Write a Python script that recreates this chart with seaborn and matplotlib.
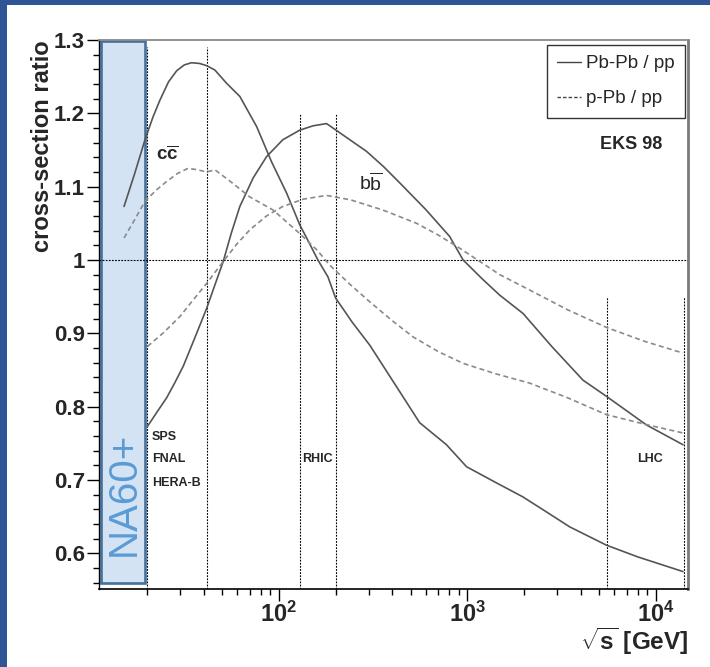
import matplotlib
matplotlib.use("Agg")
import matplotlib.pyplot as plt
import pandas as pd
import seaborn as sns
from matplotlib.lines import Line2D
from matplotlib.patches import Rectangle
from matplotlib.ticker import FixedLocator, FixedFormatter, LogLocator, NullFormatter

# EKS98 shadowing: ratio of heavy-quark cross sections vs. sqrt(s) [GeV]
cc_pbpb_energy = [15.1, 17.2, 19.5, 21.5, 23.4, 26.0, 28.7, 31.5, 34.4, 38.0, 41.4, 45.8, 52.8,
                  62.1, 76.2, 91.4, 110, 129, 145, 161, 182, 200, 245, 303, 421, 558, 774, 989,
                  1400, 1963, 2600, 3483, 5458, 8000, 13900]
cc_pbpb_ratio = [1.073, 1.118, 1.164, 1.195, 1.218, 1.243, 1.258, 1.266, 1.269, 1.268, 1.265,
                 1.259, 1.241, 1.223, 1.182, 1.134, 1.091, 1.048, 1.023, 1.000, 0.977, 0.948,
                 0.915, 0.884, 0.827, 0.778, 0.748, 0.718, 0.697, 0.677, 0.657, 0.636, 0.611,
                 0.595, 0.575]

cc_ppb_energy = [15.1, 17.2, 19.5, 22.3, 25.4, 29.0, 33.0, 37.0, 41.4, 45.8, 56.0, 70.1, 93.3,
                 129, 160, 186, 240, 303, 400, 515, 700, 948, 1400, 2138, 3400, 5458, 8700,
                 13900]
cc_ppb_ratio = [1.030, 1.055, 1.080, 1.095, 1.107, 1.118, 1.125, 1.123, 1.120, 1.123, 1.106,
                1.086, 1.068, 1.036, 1.013, 0.993, 0.966, 0.943, 0.917, 0.895, 0.875, 0.859,
                0.845, 0.832, 0.812, 0.789, 0.776, 0.764]

bb_pbpb_energy = [20.1, 22.5, 25.4, 28.0, 31.1, 35.6, 41.4, 45.8, 50.7, 56.0, 62.1, 73.1, 86.1,
                  105, 129, 152, 179, 220, 292, 360, 438, 600, 805, 948, 1200, 1483, 1972, 2800,
                  4102, 5458, 8892, 13900]
bb_pbpb_ratio = [0.773, 0.792, 0.812, 0.832, 0.855, 0.892, 0.934, 0.966, 0.998, 1.037, 1.073,
                 1.112, 1.141, 1.164, 1.177, 1.183, 1.186, 1.170, 1.148, 1.127, 1.105, 1.069,
                 1.032, 1.000, 0.974, 0.952, 0.927, 0.882, 0.836, 0.814, 0.775, 0.748]

bb_ppb_energy = [20.1, 24.5, 29.9, 35.0, 41.4, 50.7, 60.0, 70.1, 86.0, 105, 135, 179, 240, 357,
                 537, 700, 910, 1483, 2138, 3400, 5458, 8700, 13900]
bb_ppb_ratio = [0.882, 0.901, 0.923, 0.945, 0.968, 0.998, 1.022, 1.041, 1.060, 1.073, 1.083,
                1.088, 1.082, 1.068, 1.050, 1.034, 1.016, 0.980, 0.959, 0.932, 0.908, 0.889,
                0.873]

systems = ["Pb-Pb / pp", "p-Pb / pp"]

# collider / fixed-target energies marked by vertical lines, and where each line starts
experiment_energy = [20, 41.6, 130, 200, 5500, 14000]
experiment_line_top = [1.29, 1.29, 1.2, 1.2, 0.95, 0.95]

y_ticks = [0.6, 0.7, 0.8, 0.9, 1.0, 1.1, 1.2, 1.3]
y_tick_labels = ["0.6", "0.7", "0.8", "0.9", "1", "1.1", "1.2", "1.3"]
x_ticks = [1e2, 1e3, 1e4]
x_tick_labels = [r"$\mathbf{10^{2}}$", r"$\mathbf{10^{3}}$", r"$\mathbf{10^{4}}$"]

# long-form table for seaborn
frames = []
for quark, sys_, e, r in [("cc", systems[0], cc_pbpb_energy, cc_pbpb_ratio),
                          ("cc", systems[1], cc_ppb_energy, cc_ppb_ratio),
                          ("bb", systems[0], bb_pbpb_energy, bb_pbpb_ratio),
                          ("bb", systems[1], bb_ppb_energy, bb_ppb_ratio)]:
    frames.append(pd.DataFrame({"energy": e, "ratio": r, "system": sys_,
                                "curve": quark + sys_}))
df = pd.concat(frames, ignore_index=True)

sns.set_style("ticks")
plt.rcParams["font.family"] = ["Liberation Sans", "DejaVu Sans"]
plt.rcParams["mathtext.fontset"] = "custom"
plt.rcParams["mathtext.rm"] = "Liberation Sans"
plt.rcParams["mathtext.bf"] = "Liberation Sans:bold"
plt.rcParams["mathtext.it"] = "Liberation Sans:italic"

W, H = 710, 667
fig = plt.figure(figsize=(W / 100, H / 100), dpi=100)
fig.patch.set_facecolor("white")
ax = fig.add_axes([99 / W, 1 - 589 / H, (688 - 99) / W, (589 - 40) / H])
ax.set_xscale("log")
ax.set_xlim(11.12, 14780)
ax.set_ylim(0.5512, 1.3)

# NA60+ energy range band
band = Rectangle((11.33, 0.5594), 19.6 - 11.33, 1.299 - 0.5594, facecolor="#d3e3f3",
                 edgecolor="#41719c", lw=1.9, zorder=1, clip_on=False)
ax.add_patch(band)
ax.text(15.1, 0.681, "NA60+", rotation=90, ha="center", va="center", fontsize=29,
        color="#5b9bd5", zorder=2)

# reference lines
ax.axhline(1.0, color="black", lw=0.8, ls=(0, (1.6, 1.2)), zorder=2)
for e, top in zip(experiment_energy, experiment_line_top):
    ax.vlines(e, 0.5512, top, color="black", lw=0.8, ls=(0, (1.6, 1.2)), zorder=2)

sns.lineplot(data=df, x="energy", y="ratio", hue="system", style="system", units="curve",
             estimator=None, sort=False,
             palette={systems[0]: "#555555", systems[1]: "#8a8a8a"},
             dashes={systems[0]: "", systems[1]: (3, 2)},
             lw=1.2, legend=False, ax=ax, zorder=3)

# axes styling
ax.yaxis.set_major_locator(FixedLocator(y_ticks))
ax.yaxis.set_major_formatter(FixedFormatter(y_tick_labels))
ax.yaxis.set_minor_locator(FixedLocator([0.56 + 0.02 * i for i in range(38)]))
ax.xaxis.set_major_locator(FixedLocator(x_ticks))
ax.xaxis.set_major_formatter(FixedFormatter(x_tick_labels))
ax.xaxis.set_minor_locator(LogLocator(base=10, subs=range(2, 10), numticks=20))
ax.xaxis.set_minor_formatter(NullFormatter())
ax.tick_params(axis="both", which="major", direction="out", length=8.5, width=1,
               color="black")
ax.tick_params(axis="both", which="minor", direction="out", length=4.5, width=1,
               color="black")
ax.tick_params(axis="y", which="major", labelsize=16, pad=1.5)
ax.tick_params(axis="x", which="major", labelsize=17, pad=0.5)
for lab in ax.get_yticklabels():
    lab.set_fontweight("bold")

ax.set_xlabel(r"$\sqrt{\mathbf{s}}$ [GeV]", fontsize=17.5, fontweight="bold", loc="right",
              labelpad=-0.5)
ax.set_ylabel("cross-section ratio", fontsize=17, fontweight="bold", loc="top", labelpad=0)

ax.spines["left"].set_color("black")
ax.spines["left"].set_linewidth(1.0)
ax.spines["bottom"].set_color("black")
ax.spines["bottom"].set_linewidth(1.2)
ax.spines["top"].set_color("#8a8a8a")
ax.spines["top"].set_linewidth(1.3)
ax.spines["right"].set_color("#7a7a7a")
ax.spines["right"].set_linewidth(2.0)

# annotations
ax.text(22.3, 1.143, r"c$\mathbf{\overline{c}}$", fontsize=13.5, fontweight="bold",
        ha="left", va="center")
ax.text(265, 1.105, r"b$\overline{\mathrm{b}}$", fontsize=14, ha="left", va="center")
ax.text(10760, 1.157, "EKS 98", fontsize=13, fontweight="bold", ha="right", va="center")
for label, y in zip(["SPS", "FNAL", "HERA-B"], [0.759, 0.7285, 0.696]):
    ax.text(21.2, y, label, fontsize=9, fontweight="bold", ha="left", va="center")
ax.text(133.6, 0.7285, "RHIC", fontsize=9, fontweight="bold", ha="left", va="center")
ax.text(7960, 0.7285, "LHC", fontsize=9, fontweight="bold", ha="left", va="center")

handles = [Line2D([], [], color="#444444", lw=1.0),
           Line2D([], [], color="#444444", lw=1.0, ls=(0, (2.5, 1.5)))]
leg = ax.legend(handles, systems, loc="upper right", bbox_to_anchor=(0.995, 0.991),
                borderaxespad=0, fontsize=13.5, frameon=True, fancybox=False,
                edgecolor="black", handlelength=1.3, handletextpad=0.25,
                labelspacing=0.95, borderpad=0.55)
leg.get_frame().set_linewidth(1.0)
leg.set_zorder(5)

# slide frame
fig.patches.append(Rectangle((0, 0), 7 / W, 1, transform=fig.transFigure,
                             facecolor="#2f5597", edgecolor="none", zorder=10))
fig.patches.append(Rectangle((0, 1 - 5 / H), 1, 5 / H, transform=fig.transFigure,
                             facecolor="#2f5597", edgecolor="none", zorder=10))

fig.savefig("out.png", dpi=100)
